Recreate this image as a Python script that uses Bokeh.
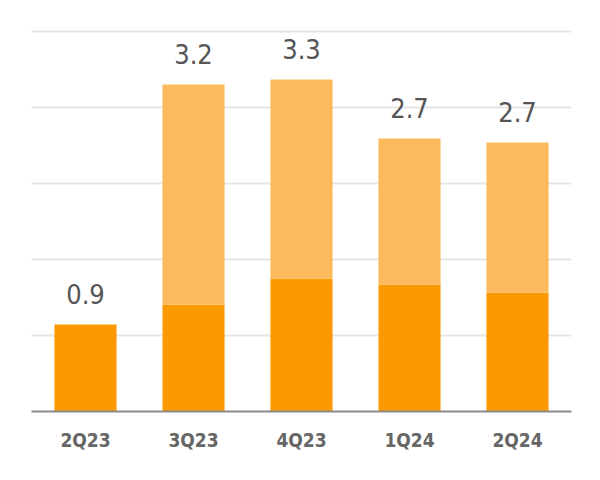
from bokeh.plotting import figure
from bokeh.models import ColumnDataSource, FixedTicker, Range1d, LabelSet
from bokeh.core.properties import value
from bokeh.embed import file_html
from bokeh.resources import INLINE

quarters = ["2Q23", "3Q23", "4Q23", "1Q24", "2Q24"]
base = [0.87, 1.07, 1.33, 1.27, 1.19]
extra = [0.0, 2.20, 1.99, 1.46, 1.50]
total_labels = ["0.9", "3.2", "3.3", "2.7", "2.7"]
grid_values = [0.76, 1.52, 2.28, 3.04, 3.8]

tops = [b + e for b, e in zip(base, extra)]
src = ColumnDataSource(dict(q=quarters, base=base, extra=extra, top=tops,
                            lab_y=[t + 0.305 for t in tops], lab=total_labels))

FONT = "'DejaVu Sans Condensed', 'Liberation Sans Narrow', Roboto, sans-serif"

p = figure(x_range=quarters, y_range=Range1d(0, 4.01), width=600, height=480,
           output_backend="svg", toolbar_location=None,
           min_border_left=31, min_border_right=29, min_border_top=10, min_border_bottom=69)
p.outline_line_color = None
p.background_fill_color = "white"

p.vbar(x="q", bottom=0, top="base", width=0.575, source=src, color="#FA9A00", line_color=None)
p.vbar(x="q", bottom="base", top="top", width=0.575, source=src, color="#FBBA5E", line_color=None)

labels = LabelSet(x="q", y="lab_y", text="lab", source=src, text_align="center",
                  text_baseline="middle", text_font=value(FONT),
                  text_font_size=value("27px"), text_color=value("#555555"))
p.add_layout(labels)

p.yaxis.visible = False
p.ygrid.ticker = FixedTicker(ticks=grid_values)
p.ygrid.grid_line_color = "#e6e6e6"
p.ygrid.grid_line_width = 2
p.xgrid.grid_line_color = None

p.xaxis.axis_line_color = "#8a8a8a"
p.xaxis.axis_line_width = 2
p.xaxis.major_tick_line_color = None
p.xaxis.minor_tick_line_color = None
p.xaxis.major_label_text_font = FONT
p.xaxis.major_label_text_font_style = "bold"
p.xaxis.major_label_text_font_size = "19px"
p.xaxis.major_label_text_color = "#666666"
p.xaxis.major_label_standoff = 11
p.x_range.range_padding = 0

open("out.html", "w").write(file_html(p, INLINE))
